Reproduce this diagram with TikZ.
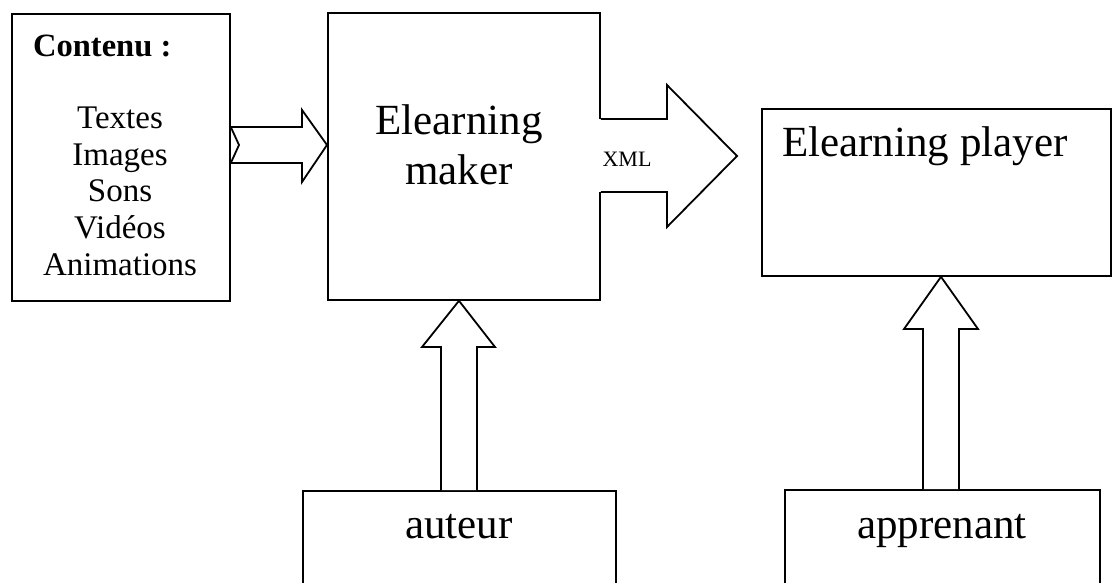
\documentclass[tikz,border=0pt]{standalone}
\usepackage{fontspec}
\setmainfont{Liberation Serif}
\begin{document}
\begin{tikzpicture}[x=1pt,y=-1pt,
  box/.style={draw=black,line width=1.8pt,rectangle,inner sep=0pt,anchor=north west,fill=white},
  blockarrow/.style={draw=black,line width=1.8pt,line join=miter,fill=white},
  big/.style={font=\fontsize{43}{48}\selectfont,inner sep=0pt},
  mid/.style={font=\fontsize{33}{37}\selectfont,inner sep=0pt,anchor=base},
  small/.style={font=\fontsize{22}{26}\selectfont,inner sep=0pt,anchor=base}]
\useasboundingbox (0,0) rectangle (1112,583);
\clip (0,0) rectangle (1112,583);
% boxes
\node[box,minimum width=218pt,minimum height=287pt] (content) at (11,13) {};
\node[box,minimum width=272pt,minimum height=287pt] (maker) at (327,12) {};
\node[box,minimum width=349pt,minimum height=167pt] (player) at (761,108) {};
\node[box,minimum width=313pt,minimum height=120pt] (auteur) at (302,490) {};
\node[box,minimum width=315pt,minimum height=120pt] (apprenant) at (784,489) {};
% content -> maker (notched block arrow)
\draw[blockarrow] (content.north east |- 0,127) -- (302,127) -- (302,110)
  -- (maker.north west |- 0,145) -- (302,182) -- (302,163)
  -- (content.north east |- 0,163) -- (239,145) -- cycle;
% maker -> player (XML)
\fill[white] (596,119) rectangle (668,192);
\draw[blockarrow] (maker.north east |- 0,119) -- (667,119) -- (667,85)
  -- (737,156) -- (667,227) -- (667,192) -- (maker.north east |- 0,192);
% auteur -> maker
\draw[blockarrow] (441,490) -- (441,347) -- (422,347) -- (maker.south west -| 459,0)
  -- (495,347) -- (477,347) -- (477,490);
% apprenant -> player
\draw[blockarrow] (923,489) -- (923,329) -- (904,329) -- (player.south west -| 941,0)
  -- (978,329) -- (959,329) -- (959,489);
% texts
\node[font=\fontsize{32.5}{36}\selectfont\bfseries,inner sep=0pt,anchor=base west] (contenu) at (33,57) {Contenu :};
\node[mid] (t1) at (120,129) {Textes};
\node[mid] (t2) at (120,165.5) {Images};
\node[mid] (t3) at (120,202) {Sons};
\node[mid] (t4) at (120,238.5) {Vidéos};
\node[mid] (t5) at (120,275) {Animations};
\node[big,anchor=base] (m1) at (459,135) {Elearning};
\node[big,anchor=base] (m2) at (459,185) {maker};
\node[small] (xml) at (627,167) {XML};
\node[big,anchor=base west] (p1) at (782,157) {Elearning player};
\node[big,anchor=base] (a1) at (459,538) {auteur};
\node[big,anchor=base] (a2) at (942,538) {apprenant};
\end{tikzpicture}
\end{document}
